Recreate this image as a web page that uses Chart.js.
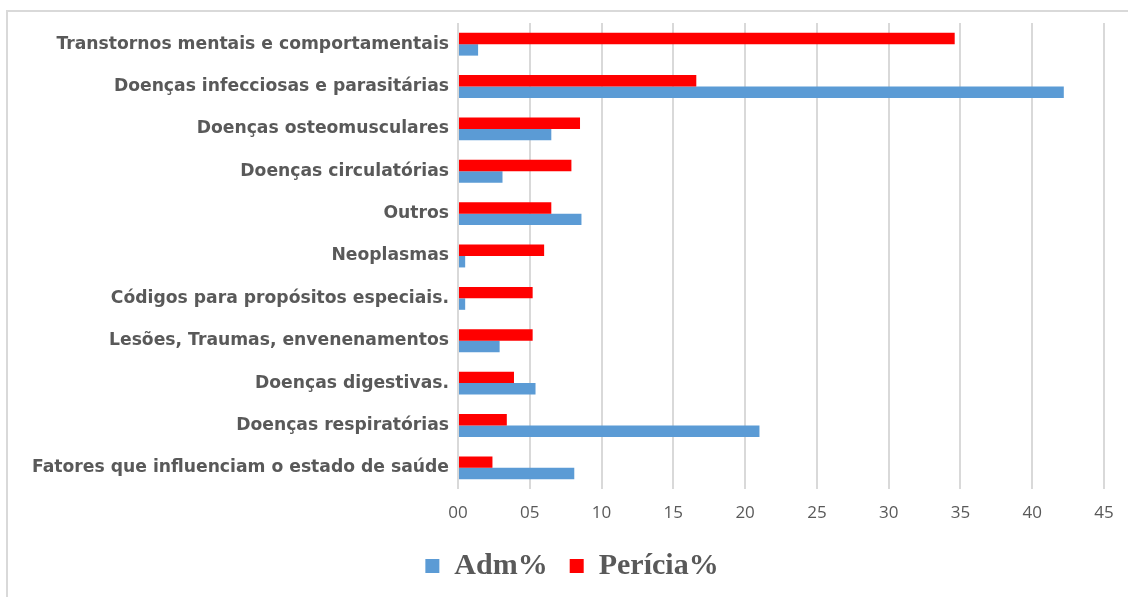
<!DOCTYPE html>
<html>
<head>
<meta charset="utf-8">
<script src="https://cdn.jsdelivr.net/npm/chart.js@4"></script>
<style>
    body { margin: 0; background: #fff; overflow: hidden; }
    #frame {
        position: absolute; left: 6px; top: 10px; width: 1200px; height: 700px;
        border-top: 2px solid #d9d9d9; border-left: 2px solid #d9d9d9;
    }
    #wrap { position: absolute; left: 0; top: 0; width: 1128px; height: 597px; }
</style>
</head>
<body>
<div id="frame"></div>
<div id="wrap"><canvas id="chart"></canvas></div>
<script>
// categorias, de cima para baixo
const categorias = [
    'Transtornos mentais e comportamentais',
    'Doenças infecciosas e parasitárias',
    'Doenças osteomusculares',
    'Doenças circulatórias',
    'Outros',
    'Neoplasmas',
    'Códigos para propósitos especiais.',
    'Lesões, Traumas, envenenamentos',
    'Doenças digestivas.',
    'Doenças respiratórias',
    'Fatores que influenciam o estado de saúde'
];

const admValores     = [1.4, 42.2, 6.5, 3.1, 8.6, 0.5, 0.5, 2.9, 5.4, 21.0, 8.1];
const periciaValores = [34.6, 16.6, 8.5, 7.9, 6.5, 6.0, 5.2, 5.2, 3.9, 3.4, 2.4];

const xTicks = ['00', '05', '10', '15', '20', '25', '30', '35', '40', '45'];

const cinza = '#595959';

// desloca a legenda um pouco para a direita
const moveLegend = {
    id: 'moveLegend',
    afterLayout(chart) {
        if (!chart.legend) return;
        chart.legend.left += 20;
        chart.legend.right += 20;
    }
};

const ctx = document.getElementById('chart');
new Chart(ctx, {
    type: 'bar',
    data: {
        labels: categorias,
        datasets: [
            {
                label: 'Perícia%',
                data: periciaValores,
                backgroundColor: '#ff0000'
            },
            {
                label: 'Adm%',
                data: admValores,
                backgroundColor: '#5b9bd5'
            }
        ]
    },
    options: {
        indexAxis: 'y',
        responsive: true,
        maintainAspectRatio: false,
        animation: false,
        categoryPercentage: 0.54,
        barPercentage: 1,
        layout: {
            padding: { top: 23, right: 24, left: 0, bottom: 6 }
        },
        scales: {
            x: {
                min: 0,
                max: 45,
                ticks: {
                    stepSize: 5,
                    padding: 14,
                    color: cinza,
                    font: { family: 'Open Sans', size: 17 },
                    callback: (v, i) => xTicks[i]
                },
                grid: { color: '#d9d9d9', lineWidth: 2, drawTicks: false },
                border: { display: false },
                afterFit: (scale) => { scale.height = 40; }
            },
            y: {
                ticks: {
                    padding: 9,
                    color: cinza,
                    font: { family: 'DejaVu Sans', size: 17.2, weight: 'bold' }
                },
                grid: { display: false, drawTicks: false },
                border: { display: false },
                afterFit: (scale) => { scale.width = 458; }
            }
        },
        plugins: {
            legend: {
                position: 'bottom',
                reverse: true,
                labels: {
                    boxWidth: 14,
                    boxHeight: 14,
                    padding: 22,
                    color: cinza,
                    font: { family: 'Liberation Serif', size: 30, weight: 'bold' }
                }
            },
            tooltip: { enabled: false }
        }
    },
    plugins: [moveLegend]
});
</script>
</body>
</html>
